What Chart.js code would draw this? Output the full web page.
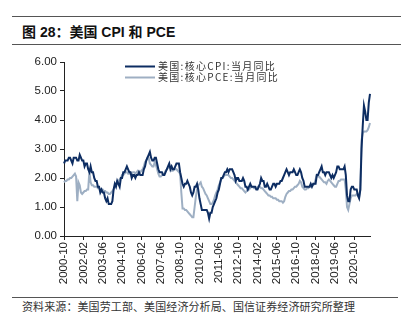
<!DOCTYPE html>
<html lang="zh">
<head>
  <meta charset="UTF-8">
  <title>图 28：美国 CPI 和 PCE</title>
  <script src="https://cdn.jsdelivr.net/npm/chart.js"></script>
  <style>
    body {
      margin: 0;
      width: 401px;
      height: 330px;
      background: #fff;
      position: relative;
      overflow: hidden;
      font-family: "Liberation Sans", "Noto Sans CJK SC", sans-serif;
    }
    .rule {
      position: absolute;
      left: 12px;
      right: 0;
      height: 1px;
      background: #555;
    }
    .title {
      position: absolute;
      left: 22px;
      top: 21px;
      font-size: 14px;
      font-weight: bold;
      color: #111;
    }
    #wrap {
      position: absolute;
      left: 0;
      top: 50px;
      width: 401px;
      height: 244px;
    }
    .source {
      position: absolute;
      left: 22px;
      top: 298px;
      font-family: "Noto Sans CJK SC", sans-serif;
      font-size: 11px;
      letter-spacing: 0.1px;
      color: #333;
    }
  </style>
</head>
<body>
  <div class="rule" style="top:16px"></div>
  <div class="title">图 28：美国 CPI 和 PCE</div>
  <div class="rule" style="top:44px"></div>
  <div id="wrap"><canvas id="chart"></canvas></div>
  <div class="rule" style="top:297px; right:3px"></div>
  <div class="source">资料来源：美国劳工部、美国经济分析局、国信证券经济研究所整理</div>

  <script>
    // 美国:核心CPI:当月同比 (%), 2000-10 ~ 2021-11, 每行一年
    const coreCpi = [
      2.5, 2.6, 2.6,
      2.6, 2.7, 2.7, 2.6, 2.5, 2.7, 2.7, 2.7, 2.6, 2.6, 2.8, 2.7,
      2.6, 2.6, 2.4, 2.5, 2.5, 2.3, 2.2, 2.4, 2.2, 2.2, 2.0, 1.9,
      1.9, 1.7, 1.7, 1.5, 1.6, 1.5, 1.5, 1.3, 1.2, 1.3, 1.1, 1.1,
      1.1, 1.2, 1.6, 1.8, 1.7, 1.9, 1.8, 1.7, 2.0, 2.0, 2.2, 2.2,
      2.3, 2.4, 2.3, 2.2, 2.2, 2.0, 2.1, 2.1, 2.0, 2.1, 2.1, 2.2,
      2.1, 2.1, 2.1, 2.3, 2.4, 2.6, 2.7, 2.8, 2.9, 2.7, 2.6, 2.6,
      2.7, 2.7, 2.5, 2.3, 2.2, 2.2, 2.2, 2.1, 2.1, 2.2, 2.3, 2.4,
      2.5, 2.3, 2.4, 2.3, 2.3, 2.4, 2.5, 2.5, 2.5, 2.2, 2.0, 1.8,
      1.7, 1.8, 1.8, 1.9, 1.8, 1.7, 1.5, 1.4, 1.5, 1.7, 1.7, 1.8,
      1.6, 1.3, 1.1, 0.9, 0.9, 0.9, 0.9, 0.9, 0.8, 0.6, 0.8, 0.8,
      1.0, 1.1, 1.2, 1.3, 1.5, 1.6, 1.8, 2.0, 2.0, 2.1, 2.2, 2.2,
      2.3, 2.2, 2.3, 2.3, 2.3, 2.2, 2.1, 1.9, 2.0, 2.0, 1.9, 1.9,
      1.9, 2.0, 1.9, 1.7, 1.7, 1.6, 1.7, 1.8, 1.7, 1.7, 1.7, 1.7,
      1.6, 1.6, 1.7, 1.8, 2.0, 1.9, 1.9, 1.7, 1.7, 1.8, 1.7, 1.6,
      1.6, 1.7, 1.8, 1.8, 1.7, 1.8, 1.8, 1.8, 1.9, 1.9, 2.0, 2.1,
      2.2, 2.3, 2.2, 2.1, 2.2, 2.2, 2.2, 2.3, 2.2, 2.1, 2.1, 2.2,
      2.3, 2.2, 2.0, 1.9, 1.7, 1.7, 1.7, 1.7, 1.7, 1.8, 1.7, 1.8,
      1.8, 1.8, 2.1, 2.1, 2.2, 2.3, 2.4, 2.2, 2.2, 2.1, 2.2, 2.2,
      2.2, 2.1, 2.0, 2.1, 2.0, 2.1, 2.2, 2.4, 2.4, 2.3, 2.3, 2.3,
      2.3, 2.4, 2.1, 1.4, 1.2, 1.2, 1.6, 1.7, 1.7, 1.6, 1.6, 1.6,
      1.4, 1.3, 1.6, 3.0, 3.8, 4.5, 4.3, 4.0, 4.0, 4.6, 4.9
    ];

    // 美国:核心PCE:当月同比 (%)
    const corePce = [
      1.85, 1.9, 1.9,
      1.95, 1.95, 2.0, 2.0, 2.05, 2.1, 2.15, 2.05, 1.2, 1.85, 1.75, 1.5,
      1.45, 1.5, 1.55, 1.55, 1.6, 1.6, 2.25, 1.85, 1.75, 1.75, 1.7, 1.7,
      1.7, 1.65, 1.65, 1.6, 1.6, 1.6, 1.55, 1.55, 1.5, 1.5, 1.45, 1.45,
      1.5, 1.55, 1.6, 1.7, 1.8, 1.9, 1.9, 1.95, 2.0, 2.1, 2.1, 2.15,
      2.2, 2.2, 2.15, 2.15, 2.2, 2.15, 2.2, 2.2, 2.15, 2.2, 2.25, 2.2,
      2.2, 2.25, 2.3, 2.4, 2.55, 2.6, 2.7, 2.7, 2.5, 2.45, 2.4, 2.4,
      2.55, 2.45, 2.3, 2.15, 2.05, 2.05, 2.1, 2.1, 2.15, 2.25, 2.3, 2.35,
      2.4, 2.35, 2.25, 2.25, 2.3, 2.3, 2.3, 2.25, 2.2, 2.15, 1.5, 0.95,
      0.95, 0.9, 0.9, 0.85, 0.8, 0.75, 0.7, 0.65, 0.65, 1.0, 1.35, 1.6,
      1.75, 1.8, 1.85, 1.7, 1.65, 1.55, 1.45, 1.4, 1.3, 1.2, 1.1, 1.1,
      1.15, 1.25, 1.4, 1.5, 1.6, 1.75, 1.85, 1.95, 2.0, 2.05, 2.1, 2.1,
      2.1, 2.1, 2.05, 2.0, 2.0, 1.95, 1.9, 1.85, 1.8, 1.75, 1.7, 1.65,
      1.65, 1.6, 1.55, 1.5, 1.55, 1.6, 1.6, 1.65, 1.7, 1.7, 1.65, 1.65,
      1.65, 1.7, 1.7, 1.7, 1.65, 1.65, 1.6, 1.55, 1.5, 1.45, 1.4, 1.4,
      1.35, 1.35, 1.3, 1.3, 1.3, 1.25, 1.25, 1.2, 1.2, 1.2, 1.15, 1.2,
      1.35, 1.45, 1.5, 1.55, 1.55, 1.6, 1.6, 1.65, 1.7, 1.7, 1.75, 1.8,
      1.9, 1.85, 1.7, 1.65, 1.6, 1.6, 1.65, 1.65, 1.7, 1.7, 1.75, 1.75,
      1.8, 1.95, 2.1, 2.05, 2.05, 2.0, 1.95, 1.9, 1.85, 1.85, 1.8, 1.9,
      1.95, 1.9, 1.85, 1.8, 1.75, 1.7, 1.7, 1.8, 1.9, 1.9, 1.95, 1.95,
      1.95, 1.95, 1.6, 1.0, 0.9, 1.1, 1.3, 1.4, 1.4, 1.4, 1.4, 1.45,
      1.4, 1.35, 1.6, 3.3, 3.55, 3.6, 3.6, 3.6, 3.65, 3.75, 3.9
    ];

    // 横轴显示的刻度
    const tickLabels = [
      '2000-10', '2002-02', '2003-06', '2004-10', '2006-02', '2007-06', '2008-10', '2010-02',
      '2011-06', '2012-10', '2014-02', '2015-06', '2016-10', '2018-02', '2019-06', '2020-10'
    ];

    const seriesNames = ['美国:核心CPI:当月同比', '美国:核心PCE:当月同比'];
    const colores = ['#0d2d62', '#9eafc3'];

    // 月份类别 2000-10 起
    const months = [];
    let yy = 2000, mm = 10;
    while (months.length < coreCpi.length) {
      months.push(yy + '-' + String(mm).padStart(2, '0'));
      mm++;
      if (mm > 12) { mm = 1; yy++; }
    }

    const font = { family: '"Liberation Sans", Arial, sans-serif', size: 11.5 };

    // 图例画在图内左上方
    const legendPlugin = {
      id: 'legendInside',
      afterDraw(chart) {
        const ctx = chart.ctx;
        ctx.save();
        chart.data.datasets.forEach((ds, i) => {
          const y = 16.5 + i * 11;
          ctx.strokeStyle = ds.borderColor;
          ctx.lineWidth = 2;
          ctx.beginPath();
          ctx.moveTo(125, y);
          ctx.lineTo(155, y);
          ctx.stroke();
          ctx.fillStyle = '#333';
          ctx.font = '10px "Noto Sans CJK SC"';
          ctx.letterSpacing = '1.3px';
          ctx.textBaseline = 'middle';
          ctx.fillText(ds.label, 158, y);
        });
        ctx.restore();
      }
    };

    new Chart(document.getElementById('chart'), {
      type: 'line',
      data: {
        labels: months,
        datasets: [
          { label: seriesNames[0], data: coreCpi, borderColor: colores[0], borderWidth: 2, order: 1 },
          { label: seriesNames[1], data: corePce, borderColor: colores[1], borderWidth: 2, order: 2 }
        ]
      },
      options: {
        responsive: true,
        maintainAspectRatio: false,
        animation: false,
        layout: { padding: { top: 12, right: 31, left: 0, bottom: 0 } },
        elements: { point: { radius: 0 }, line: { tension: 0 } },
        plugins: { legend: { display: false }, tooltip: { enabled: false } },
        scales: {
          x: {
            type: 'category',
            offset: false,
            afterBuildTicks: s => { s.ticks = s.ticks.filter(t => tickLabels.includes(months[t.value])); },
            afterFit: s => { s.height = 58; },
            ticks: {
              autoSkip: false,
              minRotation: 90,
              maxRotation: 90,
              padding: 2,
              color: '#222',
              font: font
            },
            grid: { drawOnChartArea: false, drawTicks: true, tickLength: 4, color: '#222' },
            border: { color: '#222', width: 1 }
          },
          y: {
            min: 0,
            max: 6,
            afterFit: s => { s.width = 64; },
            ticks: {
              stepSize: 1,
              padding: 3,
              color: '#222',
              font: font,
              callback: v => v.toFixed(2)
            },
            grid: { drawOnChartArea: false, drawTicks: true, tickLength: 4, color: '#222' },
            border: { color: '#222', width: 1 }
          }
        }
      },
      plugins: [legendPlugin]
    });
  </script>
</body>
</html>
